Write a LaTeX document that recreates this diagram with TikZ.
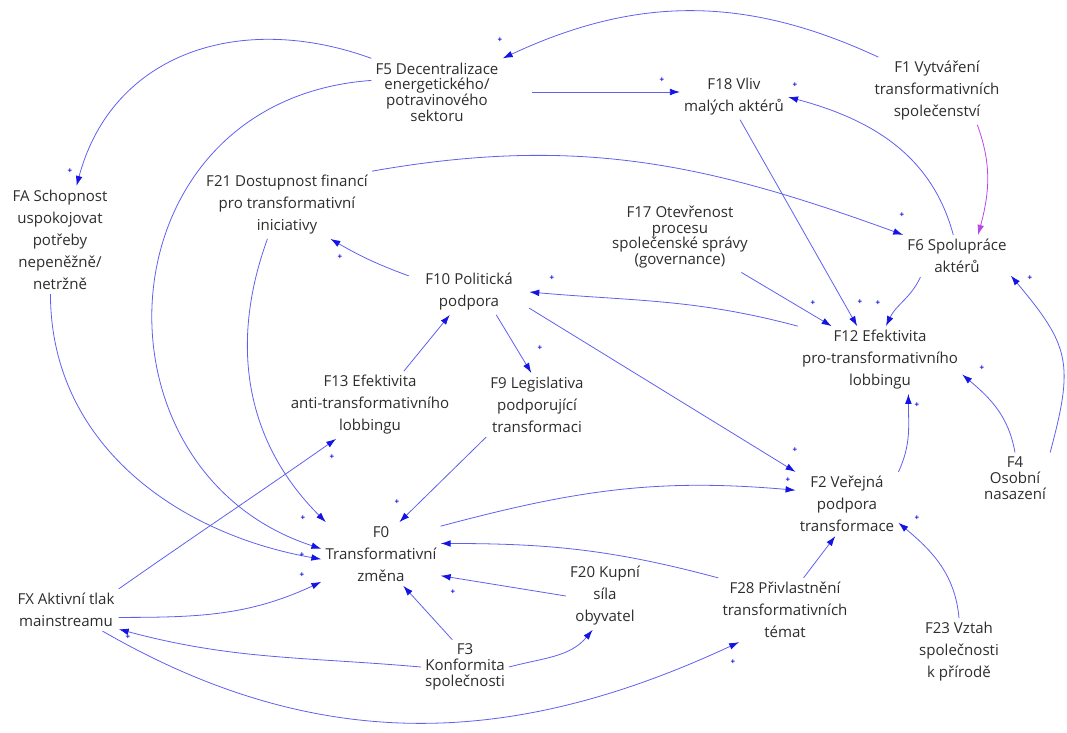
\documentclass[tikz,border=0pt]{standalone}
\usepackage{fontspec}
\setmainfont{Open Sans}
\usetikzlibrary{arrows.meta}

\definecolor{linkblue}{RGB}{95,95,240}
\definecolor{tipblue}{RGB}{20,20,230}
\definecolor{linkviolet}{RGB}{185,70,235}
\definecolor{labelgray}{RGB}{45,45,45}

\tikzset{
  factor/.style={align=center, text=labelgray, inner sep=3pt, font=\fontsize{11.3}{16.5}\selectfont},
  tightfactor/.style={factor, font=\fontsize{11.3}{11.8}\selectfont},
  link/.style={draw=linkblue, line width=0.6pt, -{Latex[length=7.5pt,width=5pt,color=tipblue]}},
  violetlink/.style={link, draw=linkviolet, -{Latex[length=7.5pt,width=5pt,color=linkviolet]}},
  pol/.style={text=tipblue, font=\fontsize{6}{6}\selectfont\bfseries, inner sep=0pt}
}

\begin{document}
\begin{tikzpicture}[x=0.75pt,y=0.75pt]
	\useasboundingbox (0,0) rectangle (1067,-732);
	% factors
	\node[tightfactor] (F5) at (437,-92) {F5 Decentralizace\\energetického/\\potravinového\\sektoru};
	\node[factor] (F18) at (734,-97) {F18 Vliv\\malých aktérů};
	\node[factor] (F1) at (937,-91) {F1 Vytváření\\transformativních\\společenství};
	\node[factor] (FA) at (60,-240) {FA Schopnost\\uspokojovat\\potřeby\\nepeněžně/\\netržně};
	\node[factor] (F21) at (287,-205) {F21 Dostupnost financí\\pro transformativní\\iniciativy};
	\node[tightfactor] (F17) at (680,-237) {F17 Otevřenost\\procesu\\společenské správy\\(governance)};
	\node[factor] (F6) at (957,-256) {F6 Spolupráce\\aktérů};
	\node[factor, minimum width=90pt] (F10) at (469,-292) {F10 Politická\\podpora};
	\node[factor] (F12) at (880,-360) {F12 Efektivita\\pro-transformativního\\lobbingu};
	\node[factor] (F13) at (370,-405) {F13 Efektivita\\anti-transformativního\\lobbingu};
	\node[factor] (F9) at (537,-405) {F9 Legislativa\\podporující\\transformaci};
	\node[factor] (F2) at (847,-504) {F2 Veřejná\\podpora\\transformace};
	\node[tightfactor] (F4) at (1015,-478) {F4\\Osobní\\nasazení};
	\node[factor] (F0) at (381,-554) {F0\\Transformativní\\změna};
	\node[factor] (FX) at (66,-610) {FX Aktivní tlak\\mainstreamu};
	\node[factor] (F20) at (605,-596) {F20 Kupní\\síla\\obyvatel};
	\node[factor] (F28) at (785,-610) {F28 Přivlastnění\\transformativních\\témat};
	\node[tightfactor] (F3) at (465,-667) {F3\\Konformita\\společnosti};
	\node[factor] (F23) at (959,-652) {F23 Vztah\\společnosti\\k přírodě};

	% links
	\draw[link] (F1.150) to[out=155,in=25] (F5.north east);
	\draw[link] (F5.north west) to[out=160,in=75,looseness=1.1] (FA.73);
	\draw[link] (F5.170) .. controls (100,-100) and (80,-470) .. (F0.175);
	\draw[link] ([xshift=22pt]F5.east) -- (F18.west |- F5.east);
	\draw[link] (F6.100) to[out=105,in=-15] (F18.east);
	\draw[violetlink] (F1.-40) to[out=-70,in=75] (F6.45);
	\draw[link] (F21.north east) to[out=10,in=160] (F6.north west);
	\draw[link] (F18.-75) -- (F12.124);
	\draw[link] (F6.-150) to[out=-115,in=65] (F12.80);
	\draw[link] (F17.-30) -- (F12.145);
	\draw[link] (F12.north west) to[out=165,in=-5] (F10.east);
	\draw[link] (F10.165) to[out=160,in=-30] (F21.-38);
	\draw[link] (F10.-40) -- (F9.100);
	\draw[link] (F13.45) -- (F10.-130);
	\draw[link] (F10.-15) -- (F2.north west);
	\draw[link] (F9.south west) -- (F0.60);
	\draw[link] (F0.25) to[out=15,in=175] (F2.165);
	\draw[link] (F28.north west) to[out=165,in=0] (F0.10);
	\draw[link] (F20.west) -- (F0.-20);
	\draw[link] (F3.115) -- (F0.-55);
	\draw[link] (F3.east) to[out=15,in=-130] (F20.-110);
	\draw[link] (F3.west) to[out=175,in=-15] (FX.-20);
	\draw[link] (FX.-8) to[out=0,in=-155] (F0.-155);
	\draw[link] (FX.north east) to[out=35,in=-145] (F13.-135);
	\draw[link] (FX.-30) to[out=-30,in=-155] (F28.-145);
	\draw[link] (F28.60) -- (F2.-110);
	\draw[link] (F23.north) to[out=95,in=-40] (F2.-20);
	\draw[link] (F2.north east) to[out=65,in=-90] (F12.-50);
	\draw[link] (F4.north) to[out=100,in=-40] (F12.-10);
	\draw[link] (F4.north east) to[out=75,in=-50,looseness=1.3] (F6.-20);
	\draw[link] (FA.-100) to[out=-90,in=170] (F0.-175);
	\draw[link] (F21.-120) to[out=-110,in=135] (F0.150);

	% polarities
	\foreach [count=\i] \px/\py in {500/40, 70/171, 662/80, 795/85, 902/215, 1030/278,
		813/303, 860/302, 878/303, 982/368, 917/405, 552/278, 340/257, 540/348,
		795/450, 788/480, 917/518, 332/457, 303/518, 302/555, 302/575, 397/502,
		453/592, 128/637, 733/662}
		\node[pol] (pol\i) at (\px,-\py) {+};
\end{tikzpicture}
\end{document}
